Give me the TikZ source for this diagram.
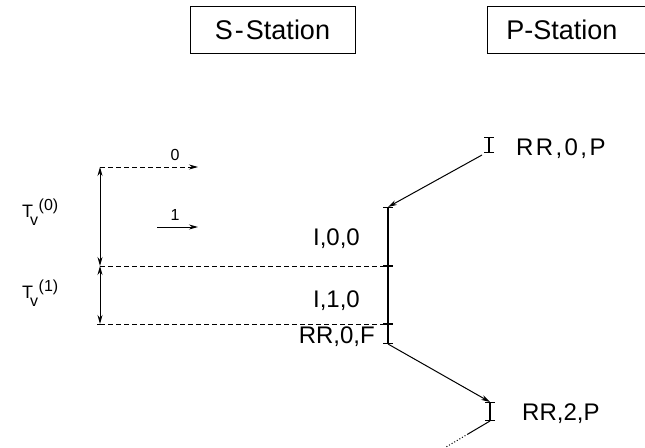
\documentclass[tikz,border=0pt]{standalone}
\usepackage{fontspec}
\setmainfont{Liberation Sans}
\usetikzlibrary{arrows.meta}
\begin{document}
\begin{tikzpicture}[x=1pt,y=-1pt,
  lbl/.style={inner sep=0pt, font=\fontsize{24}{24}\selectfont},
  stbox/.style={draw, line width=0.9pt, inner sep=0pt, minimum height=47pt,
    font=\fontsize{27}{27}\selectfont},
  small/.style={inner sep=0pt, font=\fontsize{16}{16}\selectfont},
  tlbl/.style={inner sep=0pt, font=\fontsize{18}{18}\selectfont},
  tip/.style={-{Stealth[length=9pt,width=5pt]}},
  dtip/.style={{Stealth[length=9pt,width=5pt]}-{Stealth[length=9pt,width=5pt]}},
  dashln/.style={dash pattern=on 5pt off 3pt, line width=0.8pt},
  ibeam/.style={{Bar[width=10pt]}-{Bar[width=10pt]}, line width=1.2pt},
  conn/.style={line width=1pt}
]
\useasboundingbox (0,0) rectangle (645,447);

% station boxes
\node[stbox, minimum width=165pt] (sbox) at (272.5,29.5) {S\kern2pt-\kern2pt Station};
\node[stbox, minimum width=162pt, anchor=north west, text width=140pt, align=left]
  (pbox) at (487,6) {\kern8pt P-Station};

% S-station time line
\coordinate (b0) at (388,207);
\coordinate (b1) at (388,266);
\coordinate (b2) at (388,324);
\coordinate (b3) at (388,344);
\draw[ibeam] (b0) -- (b1);
\draw[ibeam] (b1) -- (b2);
\draw[ibeam] (b2) -- (b3);

\node[lbl, anchor=base east] (i00) at (360,245) {I,0,0};
\node[lbl, anchor=base east] (i10) at (360,307) {I,1,0};
\node[lbl, anchor=base east] (rr0f) at (375,343) {RR,0,F};

% P-station frames
\coordinate (p0t) at (489,137);
\coordinate (p0b) at (489,153);
\draw[ibeam] (p0t) -- (p0b);
\node[lbl, anchor=base west, font=\fontsize{24}{24}\selectfont\addfontfeatures{LetterSpace=10}] (rr0p) at (516,155) {RR,0,P};
\coordinate (p0s) at (482,155);
\draw[conn, tip] (p0s) -- (b0);

\coordinate (p2t) at (490,402);
\coordinate (p2b) at (490,421);
\draw[ibeam] (p2t) -- (p2b);
\node[lbl, anchor=base west] (rr2p) at (522,420) {RR,2,P};
\draw[conn, tip] (b3) -- (p2t);
\coordinate (d1) at (468,434);
\coordinate (d2) at (446,447);
\draw[conn] (p2b) -- (d1);
\draw[conn, dotted] (d1) -- (d2);

% left side: intervals
\coordinate (l0) at (100,167);
\coordinate (l1) at (100,266);
\coordinate (l2) at (100,324);
\draw[conn, dtip] (l0) -- (l1);
\draw[conn, dtip] (l1) -- (l2);
\draw[conn] ([xshift=-3pt]l2) -- ([xshift=3pt]l2);
\coordinate (a0) at (198,167);
\draw[dashln, tip] (l0) -- (a0);
\draw[dashln] (l1) -- (b1);
\draw[dashln] (l2) -- (b2);

\coordinate (a1s) at (157,227);
\coordinate (a1e) at (198,227);
\draw[conn, tip] (a1s) -- (a1e);
\node[small, anchor=base] (n0) at (175,160) {0};
\node[small, anchor=base] (n1) at (175,220) {1};

% T_v labels
\node[tlbl, anchor=base west] (tv0) at (22,217)
  {T\kern-3pt\raisebox{-8pt}{\fontsize{16}{16}\selectfont v}\kern0.5pt\raisebox{7pt}{\fontsize{16}{16}\selectfont (0)}};
\node[tlbl, anchor=base west] (tv1) at (22,298)
  {T\kern-3pt\raisebox{-8pt}{\fontsize{16}{16}\selectfont v}\kern0.5pt\raisebox{7pt}{\fontsize{16}{16}\selectfont (1)}};
\end{tikzpicture}
\end{document}
